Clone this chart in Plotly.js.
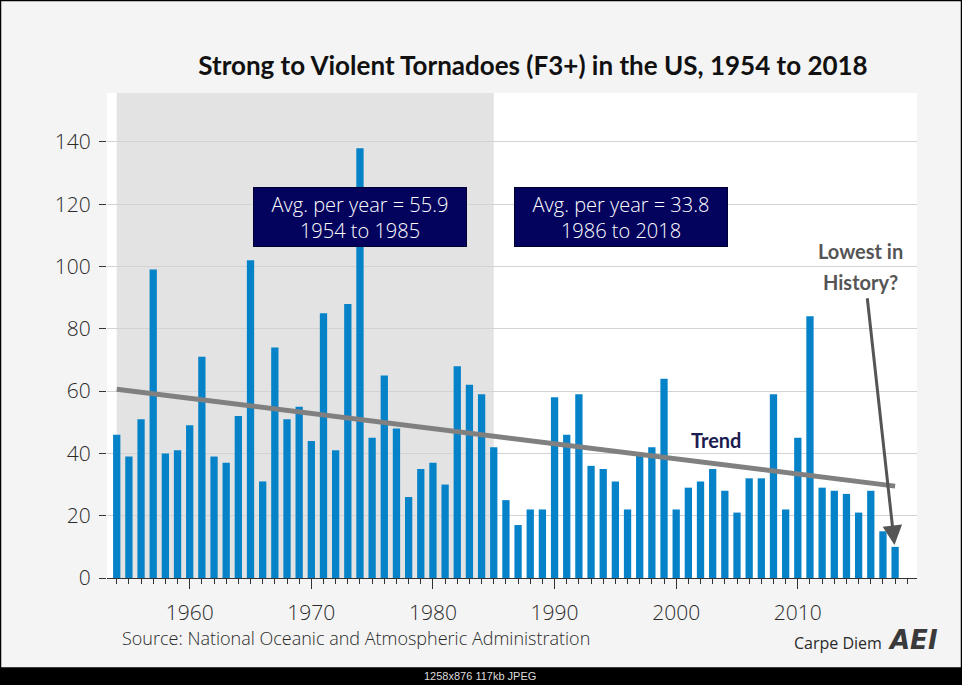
<!DOCTYPE html>
<html>
<head>
<meta charset="utf-8">
<script src="https://cdn.plot.ly/plotly-3.0.1.min.js"></script>
<style>
html,body{margin:0;padding:0;background:#f4f4f4;}
#chart{width:962px;height:685px;}
</style>
</head>
<body>
<div id="chart"></div>
<script>
// ---- data ----
const years = [1954,1955,1956,1957,1958,1959,1960,1961,1962,1963,1964,1965,1966,1967,1968,1969,
  1970,1971,1972,1973,1974,1975,1976,1977,1978,1979,1980,1981,1982,1983,1984,1985,
  1986,1987,1988,1989,1990,1991,1992,1993,1994,1995,1996,1997,1998,1999,2000,2001,2002,
  2003,2004,2005,2006,2007,2008,2009,2010,2011,2012,2013,2014,2015,2016,2017,2018];
const tornadoes = [46,39,51,99,40,41,49,71,39,37,52,102,31,74,51,55,
  44,85,41,88,138,45,65,48,26,35,37,30,68,62,59,42,
  25,17,22,22,58,46,59,36,35,31,22,40,42,64,22,29,31,
  35,28,21,32,32,59,22,45,84,29,28,27,21,28,15,10];
const trendYears = [1954, 2018];
const trendValues = [60.6, 29.5];
const era1 = [1954, 1985];
const avgLabels = ["Avg. per year = 55.9<br>1954 to 1985", "Avg. per year = 33.8<br>1986 to 2018"];
const titleText = "Strong to Violent Tornadoes (F3+) in the US, 1954 to 2018";
const sourceText = "Source: National Oceanic and Atmospheric Administration";

// ---- layout helpers (pixel -> paper) ----
const L = 107, R = 45, T = 93, B = 107, W = 962, H = 685;
const pw = W - L - R, ph = H - T - B;
const px = x => (x - L) / pw;
const py = y => (H - B - y) / ph;

const FONT = "Lato, 'Open Sans', sans-serif";
const THIN = "'Open Sans', Lato, sans-serif";

const traces = [
  {
    type: "bar", x: years, y: tornadoes,
    marker: {color: "#0683c8"},
    hoverinfo: "x+y"
  },
  {
    type: "scatter", mode: "lines", x: trendYears, y: trendValues,
    line: {color: "#808080", width: 5},
    hoverinfo: "skip"
  }
];

const layout = {
  width: W, height: H,
  margin: {l: L, r: R, t: T, b: B, pad: 0},
  paper_bgcolor: "#f4f4f4",
  plot_bgcolor: "#ffffff",
  showlegend: false,
  bargap: 0.4,
  font: {family: FONT, color: "#333"},
  title: {
    text: titleText,
    font: {family: FONT, size: 26, color: "#111", weight: 700},
    x: px(533), xref: "paper", xanchor: "center",
    y: 1 - 66 / H, yref: "container", yanchor: "middle"
  },
  xaxis: {
    range: [1953.2, 2019.8],
    tickmode: "linear", tick0: 1960, dtick: 10,
    ticks: "outside", ticklen: 10, tickwidth: 1, tickcolor: "#333",
    ticklabelstandoff: 6,
    minor: {tickmode: "linear", tick0: 1954, dtick: 1, ticks: "outside", ticklen: 5, tickcolor: "#333", showgrid: false},
    showline: true, linecolor: "#333", linewidth: 1,
    showgrid: false, zeroline: false,
    tickfont: {family: THIN, size: 21, color: "#2a2a2a", weight: 300},
    fixedrange: true
  },
  yaxis: {
    range: [0, 155.7],
    tickmode: "linear", tick0: 0, dtick: 20,
    ticks: "outside", ticklen: 7, tickwidth: 1, tickcolor: "#333",
    ticklabelstandoff: 4,
    showgrid: true, gridcolor: "#d3d3d3", gridwidth: 1,
    zeroline: false, showline: false,
    tickfont: {family: THIN, size: 21, color: "#2a2a2a", weight: 300},
    fixedrange: true
  },
  shapes: [
    {type: "rect", layer: "below", xref: "x", yref: "paper",
     x0: era1[0], x1: era1[1], y0: 0, y1: 1,
     fillcolor: "#e3e3e3", line: {width: 0}},
    // bottom caption band
    {type: "rect", layer: "above", xref: "paper", yref: "paper",
     x0: px(0), x1: px(W), y0: py(668), y1: py(H + 2),
     fillcolor: "#000", line: {width: 0}},
    // picture border
    {type: "rect", layer: "above", xref: "paper", yref: "paper",
     x0: px(0.5), x1: px(W - 0.5), y0: py(668), y1: py(0.5),
     fillcolor: "rgba(0,0,0,0)", line: {color: "#000", width: 1.5}}
  ],
  annotations: [
    {text: avgLabels[0], xref: "x", yref: "y", x: 1974.0, y: 115.9,
     xanchor: "center", yanchor: "middle",
     showarrow: false, bgcolor: "#03035e", bordercolor: "#000030", borderwidth: 1,
     width: 206, height: 52, borderpad: 3,
     font: {family: THIN, size: 20, color: "#ffffff", weight: 300}},
    {text: avgLabels[1], xref: "x", yref: "y", x: 1995.5, y: 115.9,
     xanchor: "center", yanchor: "middle",
     showarrow: false, bgcolor: "#03035e", bordercolor: "#000030", borderwidth: 1,
     width: 206, height: 52, borderpad: 3,
     font: {family: THIN, size: 20, color: "#ffffff", weight: 300}},
    {text: "Trend", xref: "x", yref: "y", x: 2003.3, y: 44.3, showarrow: false,
     xanchor: "center", yanchor: "middle",
     font: {family: FONT, size: 20, color: "#1c1c50", weight: 700}},
    {text: "Lowest in", xref: "paper", yref: "paper", x: px(860), y: py(251), showarrow: false,
     xanchor: "center", yanchor: "middle",
     font: {family: FONT, size: 20, color: "#555", weight: 700}},
    {text: "History?", xref: "paper", yref: "paper", x: px(860), y: py(282), showarrow: false,
     xanchor: "center", yanchor: "middle",
     font: {family: FONT, size: 20, color: "#555", weight: 700}},
    {text: "", xref: "x", yref: "y", x: 2017.95, y: 10.6,
     axref: "x", ayref: "y", ax: 2015.7, ay: 90.3,
     showarrow: true, arrowhead: 2, arrowsize: 1.3, arrowwidth: 3, arrowcolor: "#555"},
    {text: sourceText, xref: "paper", yref: "paper", x: px(120), y: py(638),
     xanchor: "left", yanchor: "middle", showarrow: false,
     font: {family: THIN, size: 18, color: "#2a2a2a", weight: 300}},
    {text: "Carpe Diem", xref: "paper", yref: "paper", x: px(884), y: py(643),
     xanchor: "right", yanchor: "middle", showarrow: false,
     font: {family: THIN, size: 16, color: "#2a2a2a"}},
    {text: "<i><b>AEI</b></i>", xref: "paper", yref: "paper", x: px(913), y: py(640),
     xanchor: "center", yanchor: "middle", showarrow: false,
     font: {family: "'DejaVu Sans', sans-serif", size: 26, color: "#3a3a3a"}},
    {text: "1258x876 117kb JPEG", xref: "paper", yref: "paper", x: px(480), y: py(676),
     xanchor: "center", yanchor: "middle", showarrow: false,
     font: {family: "'Liberation Sans', Arial, sans-serif", size: 11, color: "#dddddd"}}
  ]
};

Plotly.newPlot("chart", traces, layout, {displayModeBar: false, staticPlot: true});
</script>
</body>
</html>
